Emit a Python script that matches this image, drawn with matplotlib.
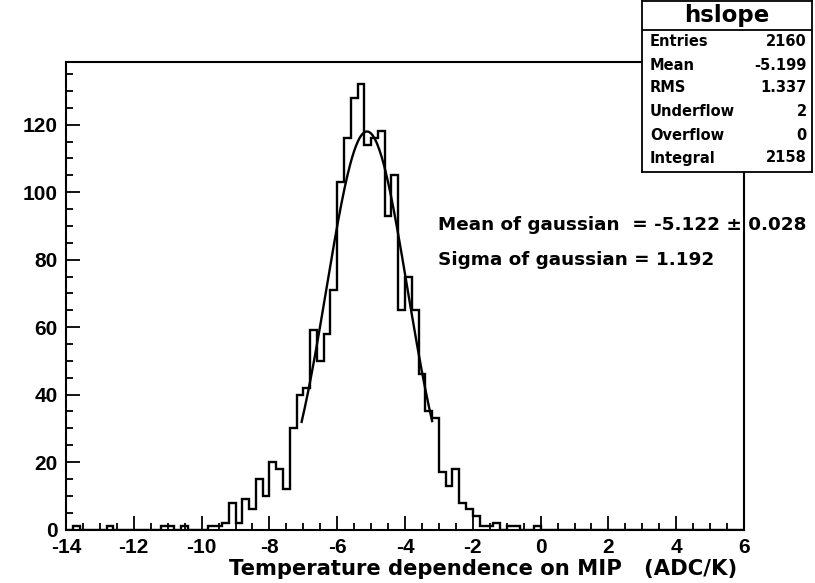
import numpy as np
import matplotlib
matplotlib.use("Agg")
import matplotlib.pyplot as plt
from matplotlib.ticker import MultipleLocator

plt.rcParams["axes.unicode_minus"] = False

# histogram hslope: 100 bins of 0.2 from -14 to 6
x_lo, x_hi, nbins = -14.0, 6.0, 100
counts = [
    0, 1, 0, 0, 0, 0, 1, 0, 0, 0,
    0, 0, 0, 0, 1, 1, 0, 1, 0, 0,
    0, 1, 1, 2, 8, 2, 9, 6, 15, 10,
    20, 18, 12, 30, 40, 42, 59, 50, 58, 71,
    103, 116, 128, 132, 114, 116, 118, 93, 105, 65,
    75, 65, 46, 35, 33, 17, 13, 18, 8, 6,
    4, 1, 1, 2, 0, 1, 1, 0, 0, 1,
    0, 0, 0, 0, 0, 0, 0, 0, 0, 0,
    0, 0, 0, 0, 0, 0, 0, 0, 0, 0,
    0, 0, 0, 0, 0, 0, 0, 0, 0, 0,
]

# gaussian fit
fit_amp, fit_mean, fit_sigma, fit_err = 118.0, -5.122, 1.192, 0.028
fit_range = (-7.05, -3.2)

# stats box
stats_title = "hslope"
stats_names = ["Entries", "Mean", "RMS", "Underflow", "Overflow", "Integral"]
stats_values = ["2160", "-5.199", "1.337", "2", "0", "2158"]

xlabel = "Temperature dependence on MIP   (ADC/K)"

font = "Liberation Sans"
wide = "DejaVu Sans"
W, H = 815, 583
fig = plt.figure(figsize=(W / 100, H / 100), dpi=100)
ax = fig.add_axes([66 / W, 1 - 529.5 / H, (744 - 66) / W, (529.5 - 62) / H])

edges = np.linspace(x_lo, x_hi, nbins + 1)
ax.stairs(counts, edges, color="black", lw=1.7)

xf = np.linspace(fit_range[0], fit_range[1], 200)
yf = fit_amp * np.exp(-0.5 * ((xf - fit_mean) / fit_sigma) ** 2)
ax.plot(xf, yf, color="black", lw=1.7)

ax.set_xlim(x_lo, x_hi)
ax.set_ylim(0, 1.05 * max(counts))
ax.xaxis.set_major_locator(MultipleLocator(2))
ax.xaxis.set_minor_locator(MultipleLocator(0.5))
ax.yaxis.set_major_locator(MultipleLocator(20))
ax.yaxis.set_minor_locator(MultipleLocator(5))
ax.tick_params(which="both", direction="in", top=False, right=False, width=1.3)
ax.tick_params(which="major", length=10)
ax.tick_params(which="minor", length=5)
ax.tick_params(axis="x", pad=6)
ax.tick_params(axis="y", pad=6)
for lab in ax.get_xticklabels() + ax.get_yticklabels():
    lab.set_fontfamily(font)
    lab.set_fontweight("bold")
    lab.set_fontsize(15)
for s in ax.spines.values():
    s.set_linewidth(1.5)

fig.text(737 / W, 1 - 569 / H, xlabel, ha="right", va="center",
         fontsize=15.2, family=wide, weight="bold")

fig.text(438 / W, 1 - 225 / H,
         "Mean of gaussian  = %.3f \u00b1 %.3f" % (fit_mean, fit_err),
         ha="left", va="center", fontsize=13.2, family=wide, weight="bold")
fig.text(438 / W, 1 - 260 / H, "Sigma of gaussian = %.3f" % fit_sigma,
         ha="left", va="center", fontsize=13.2, family=wide, weight="bold")

# stats box
bx0, bx1, by0, by1 = 642, 812, 1, 172
sb = fig.add_axes([bx0 / W, 1 - by1 / H, (bx1 - bx0) / W, (by1 - by0) / H])
sb.set_xlim(0, 1)
sb.set_ylim(0, 1)
sb.set_xticks([])
sb.set_yticks([])
sb.set_facecolor("white")
for s in sb.spines.values():
    s.set_linewidth(1.3)
hy = (by1 - 29.5) / (by1 - by0)
sb.axhline(hy, color="black", lw=1.3)
sb.text(0.5, (hy + 1) / 2, stats_title, ha="center", va="center",
        fontsize=16.5, family=wide, weight="bold")
row_y = [42, 65, 88, 112, 135, 158]
for name, val, ry in zip(stats_names, stats_values, row_y):
    yy = (by1 - ry) / (by1 - by0)
    sb.text(0.047, yy, name, ha="left", va="center", fontsize=10.5,
            family=wide, weight="bold")
    sb.text(0.97, yy, val, ha="right", va="center", fontsize=10.5,
            family=wide, weight="bold")

fig.savefig("out.png", dpi=100)
